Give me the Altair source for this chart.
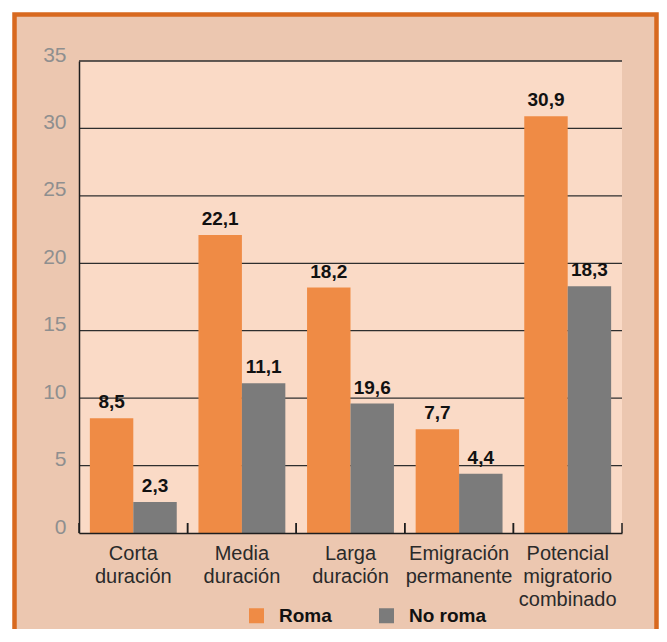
import altair as alt
import pandas as pd

categories = ["Corta duración", "Media duración", "Larga duración",
              "Emigración permanente", "Potencial migratorio combinado"]
series = ["Roma", "No roma"]
roma_values = [8.5, 22.1, 18.2, 7.7, 30.9]
noroma_values = [2.3, 11.1, 9.6, 4.4, 18.3]
roma_labels = ["8,5", "22,1", "18,2", "7,7", "30,9"]
noroma_labels = ["2,3", "11,1", "19,6", "4,4", "18,3"]
y_ticks = [0, 5, 10, 15, 20, 25, 30, 35]
grid_values = [5, 10, 15, 20, 25, 30, 35]
colors = ["#ef8b45", "#7b7b7b"]

rows = []
for i, c in enumerate(categories):
    rows.append({"cat": c, "serie": "Roma", "value": roma_values[i], "label": roma_labels[i]})
    rows.append({"cat": c, "serie": "No roma", "value": noroma_values[i], "label": noroma_labels[i]})
df = pd.DataFrame(rows)
cats_df = pd.DataFrame({"cat": categories})
grid_df = pd.DataFrame({"v": grid_values})

W, H = 543, 472
FONT = "Liberation Sans"

x_scale = alt.Scale(domain=categories, paddingInner=0, paddingOuter=0)
y_scale = alt.Scale(domain=[0, 35], nice=False, zero=True)

frame = alt.Chart(alt.Data(values=[{}])).mark_rect(
    fill="#ecc7b0", stroke="#d8691f", strokeWidth=4.5
).encode(
    x=alt.value(-64.5), x2=alt.value(577.5),
    y=alt.value(-46.5), y2=alt.value(640)
)

plotbg = alt.Chart(alt.Data(values=[{}])).mark_rect(fill="#fadac6").encode(
    x=alt.value(0), x2=alt.value(W), y=alt.value(0), y2=alt.value(H)
)

grid = alt.Chart(grid_df).mark_rule(color="#2e2e2e", strokeWidth=1.3).encode(
    y=alt.Y("v:Q", scale=y_scale),
    x=alt.value(0), x2=alt.value(W)
)

x_axis = alt.Axis(
    title=None, labelAngle=0, labelExpr="split(datum.label, ' ')",
    labelFont=FONT, labelFontSize=20, labelColor="#2a2a2a", labelLineHeight=23,
    labelPadding=10, labelBaseline="top", ticks=False, domainColor="#1e1e1e",
    domainWidth=1.5, grid=False, zindex=1
)
y_axis = alt.Axis(
    title=None, values=y_ticks, labelFont=FONT, labelFontSize=21,
    labelColor="#8f8f8f", labelPadding=13, labelOffset=-6, ticks=False,
    domainColor="#1e1e1e", domainWidth=1.5, grid=False, zindex=1
)

bars = alt.Chart(df).mark_bar().encode(
    x=alt.X("cat:N", scale=x_scale, axis=x_axis, sort=categories),
    xOffset=alt.XOffset("serie:N", sort=series,
                        scale=alt.Scale(domain=series, paddingInner=0, paddingOuter=0.25)),
    y=alt.Y("value:Q", scale=y_scale, axis=y_axis),
    color=alt.Color("serie:N", scale=alt.Scale(domain=series, range=colors),
                    legend=alt.Legend(
                        title=None, orient="none", direction="horizontal",
                        legendX=168, legendY=545, padding=0,
                        symbolType="square", symbolSize=225, symbolStrokeWidth=0,
                        symbolOpacity=1, labelFont=FONT, labelFontSize=19,
                        labelFontWeight="bold", labelColor="#111111",
                        labelOffset=13, columnPadding=45
                    ))
)

labels = alt.Chart(df).mark_text(
    font=FONT, fontSize=19, fontWeight="bold", color="#111111",
    baseline="bottom", dy=-6
).encode(
    x=alt.X("cat:N", scale=x_scale, sort=categories),
    xOffset=alt.XOffset("serie:N", sort=series,
                        scale=alt.Scale(domain=series, paddingInner=0, paddingOuter=0.25)),
    y=alt.Y("value:Q", scale=y_scale),
    text="label:N"
)

ticks_l = alt.Chart(cats_df).mark_rule(color="#1e1e1e", strokeWidth=1.5).encode(
    x=alt.X("cat:N", scale=x_scale, bandPosition=0, sort=categories),
    y=alt.value(H), y2=alt.value(H - 10)
)
ticks_r = alt.Chart(cats_df).mark_rule(color="#1e1e1e", strokeWidth=1.5).encode(
    x=alt.X("cat:N", scale=x_scale, bandPosition=1, sort=categories),
    y=alt.value(H), y2=alt.value(H - 10)
)

chart = alt.layer(frame, plotbg, grid, bars, labels, ticks_l, ticks_r).properties(
    width=W, height=H,
    autosize=alt.AutoSizeParams(type="none"),
    padding={"left": 71, "top": 53, "right": 37, "bottom": 96},
    background="white"
).configure_view(stroke=None)

chart.save("out.html", embed_options={"renderer": "svg", "actions": False})
